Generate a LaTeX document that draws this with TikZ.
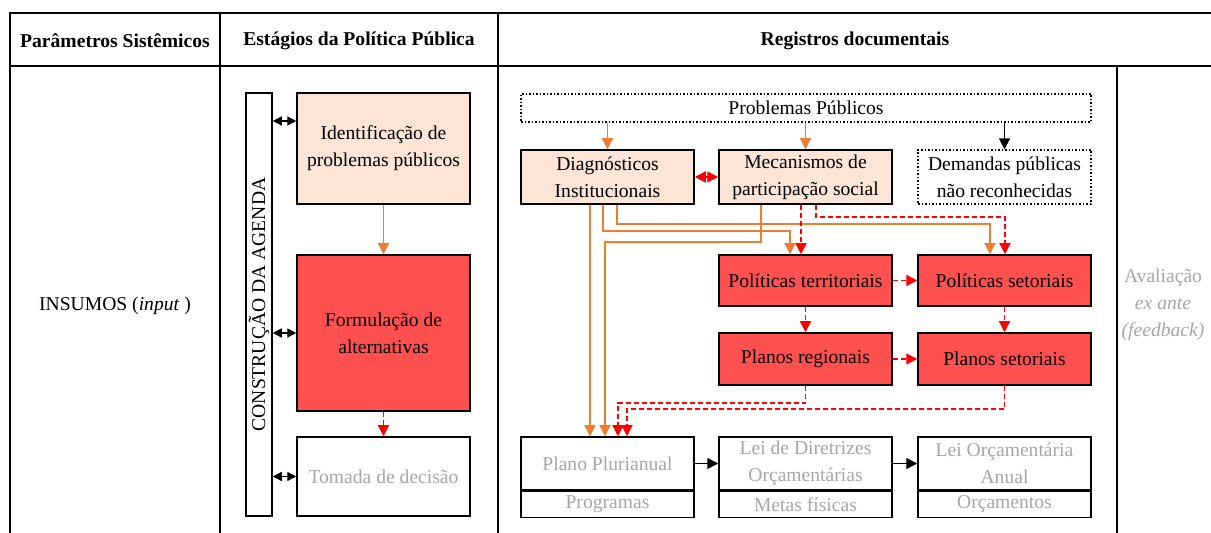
\documentclass[tikz,border=0pt]{standalone}
\usepackage{fontspec}
\setmainfont{Liberation Serif}
\usepackage{tikz}
\usetikzlibrary{arrows.meta, calc}
\usepackage{xcolor}
\definecolor{pessego}{HTML}{FCE4D6}
\definecolor{vermelho}{HTML}{FF5050}
\definecolor{laranja}{HTML}{ED7D31}
\definecolor{cinza}{HTML}{A6A6A6}

\begin{document}
\begin{tikzpicture}[x = 0.5pt, y = -0.5pt,
    font = \fontsize{9.8}{13.5}\selectfont,
    cabecalho/.style = {font = \fontsize{9.8}{13.5}\selectfont\bfseries},
    caixa/.style = {draw, line width = 0.75pt, inner sep = 0pt, align = center, minimum width = 86.5pt},
    clara/.style = {caixa, fill = pessego},
    forte/.style = {caixa, fill = vermelho},
    vazia/.style = {caixa, text = cinza},
    pontilhada/.style = {caixa, densely dotted, line width = 0.6pt},
    ponta/.style = {-{Triangle[length = 5.5pt, width = 5.5pt]}},
    setalar/.style = {ponta, draw = laranja, line width = 0.7pt},
    setaverm/.style = {ponta, draw = red, line width = 0.7pt, dash pattern = on 2.5pt off 1.5pt},
    setavermdupla/.style = {setaverm, {Triangle[length = 5.5pt, width = 5.5pt]}-{Triangle[length = 5.5pt, width = 5.5pt]}},
    setapreta/.style = {ponta, line width = 0.7pt},
    dupla/.style = {{Triangle[length = 4.5pt, width = 4.5pt]}-{Triangle[length = 4.5pt, width = 4.5pt]}, line width = 0.7pt},
    tabela/.style = {line width = 1pt}]
    \useasboundingbox (0,0) rectangle (1211,533);
    % Tabela
    \draw[tabela] (10,533) -- (10,13) -- (1211,13);
    \draw[tabela] (10,66) -- (1211,66);
    \draw[tabela] (220,13) -- (220,533);
    \draw[tabela] (498,13) -- (498,533);
    \draw[tabela] (1117,66) -- (1117,533);
    \node[cabecalho] (parametros) at (115,41) {Parâmetros Sistêmicos};
    \node[cabecalho] (estagios) at (359,41) {Estágios da Política Pública};
    \node[cabecalho] (registros) at (855,41) {Registros documentais};
    % Insumos e avaliacao
    \node (insumos) at (115,306) {INSUMOS (\textit{input} )};
    \node[text = cinza, align = center] (avaliacao) at (1163,305) {Avaliação\\\textit{ex ante}\\\textit{(feedback)}};
    % Estagios
    \node[caixa, minimum width = 13pt, minimum height = 211.5pt] (agenda) at (259,304.5) {};
    \node[rotate = 90] (agendatxt) at (agenda) {CONSTRUÇÃO DA AGENDA};
    \node[clara, minimum height = 55.5pt] (iden) at (383.5,148.5) {Identificação de\\problemas públicos};
    \node[forte, minimum height = 78pt] (form) at (383.5,333) {Formulação de\\alternativas};
    \node[vazia, minimum height = 39.5pt] (toma) at (383.5,476.5) {Tomada de decisão};
    \draw[setalar] (iden.south) -- (form.north);
    \draw[setaverm] (form.south) -- (toma.north);
    \draw[dupla] (agenda.east |- 0,121) -- (iden.west |- 0,121);
    \draw[dupla] (agenda.east |- form.west) -- (form.west);
    \draw[dupla] (agenda.east |- toma.west) -- (toma.west);
    % Registros
    \node[pontilhada, minimum width = 285pt, minimum height = 14pt] (prob) at (806,108) {Problemas Públicos};
    \node[clara, minimum height = 27pt] (diag) at (607.5,177) {Diagnósticos\\Institucionais};
    \node[clara, minimum height = 27pt] (meca) at (805.5,177) {Mecanismos de\\participação social};
    \node[pontilhada, minimum height = 27pt] (dema) at (1004.5,177) {Demandas públicas\\não reconhecidas};
    \node[forte, minimum height = 25.5pt] (terr) at (805.5,280.5) {Políticas territoriais};
    \node[forte, minimum height = 25.5pt] (seto) at (1004.5,280.5) {Políticas setoriais};
    \node[forte, minimum height = 26pt] (preg) at (805.5,359) {Planos regionais};
    \node[forte, minimum height = 26pt] (pset) at (1004.5,359) {Planos setoriais};
    % Instrumentos orcamentarios
    \node[vazia, minimum height = 26.5pt] (ppa) at (607.5,463.5) {Plano Plurianual};
    \node[vazia, minimum height = 13pt, anchor = north] (prog) at (ppa.south) {Programas};
    \node[vazia, minimum height = 26.5pt] (ldo) at (805.5,463.5) {Lei de Diretrizes\\Orçamentárias};
    \node[vazia, minimum height = 13pt, anchor = north] (metas) at (ldo.south) {Metas físicas};
    \node[vazia, minimum height = 26.5pt] (loa) at (1004.5,463.5) {Lei Orçamentária\\Anual};
    \node[vazia, minimum height = 13pt, anchor = north] (orca) at (loa.south) {Orçamentos};
    % Setas
    \draw[setalar] (prob.south -| diag.north) -- (diag.north);
    \draw[setalar] (prob.south -| meca.north) -- (meca.north);
    \draw[setapreta] (prob.south -| dema.north) -- (dema.north);
    \draw[setavermdupla] (diag.east) -- (meca.west);
    \draw[setalar] (diag.south -| 590,0) -- (ppa.north -| 590,0);
    \draw[setalar] (diag.south -| 603,0) -- (603,231) -| (terr.north -| 790,0);
    \draw[setalar] (diag.south -| 617,0) -- (617,224) -| (seto.north -| 990,0);
    \draw[setalar] (meca.south -| 761,0) -- (761,242) -| (ppa.north -| 605,0);
    \draw[setaverm] (meca.south -| 801,0) -- (terr.north -| 801,0);
    \draw[setaverm] (meca.south -| 816,0) -- (816,217) -| (seto.north -| 1005,0);
    \draw[setaverm] (terr.east) -- (seto.west);
    \draw[setaverm] (terr.south) -- (preg.north);
    \draw[setaverm] (seto.south) -- (pset.north);
    \draw[setaverm] (preg.east) -- (pset.west);
    \draw[setaverm] (preg.south) -- (preg.south |- 0,403) -| (ppa.north -| 618,0);
    \draw[setaverm] (pset.south) -- (pset.south |- 0,409) -| (ppa.north -| 627,0);
    \draw[setapreta] (ppa.east) -- (ldo.west);
    \draw[setapreta] (ldo.east) -- (loa.west);
\end{tikzpicture}
\end{document}
